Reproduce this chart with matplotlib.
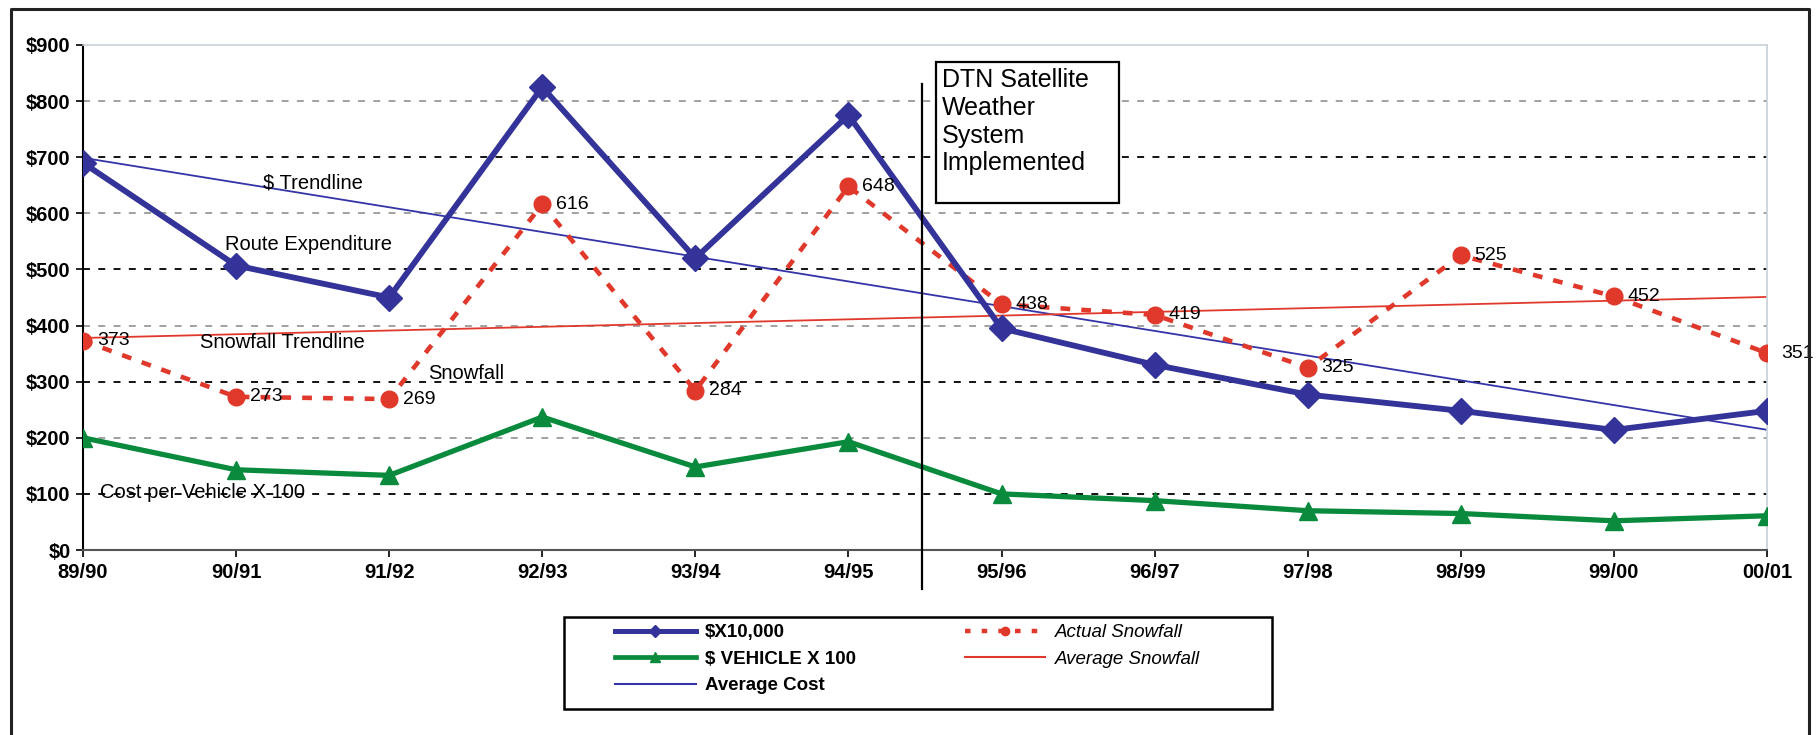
import numpy as np
import matplotlib.pyplot as plt
from matplotlib.lines import Line2D
from matplotlib.patches import Rectangle

plt.rcParams['font.family'] = ['Liberation Sans', 'DejaVu Sans']
plt.rcParams['text.parse_math'] = False
plt.rcParams['lines.scale_dashes'] = False

# data
seasons = ['89/90', '90/91', '91/92', '92/93', '93/94', '94/95',
           '95/96', '96/97', '97/98', '98/99', '99/00', '00/01']
cost_x10000 = [690, 507, 450, 825, 520, 775, 395, 330, 277, 248, 214, 248]
vehicle_x100 = [200, 143, 133, 237, 148, 193, 100, 88, 70, 65, 52, 61]
snowfall = [373, 273, 269, 616, 284, 648, 438, 419, 325, 525, 452, 351]

x = np.arange(len(seasons))
blue = '#333399'
green = '#0a8a3c'
red = '#e0392b'

# linear trendlines of the two series
cost_fit = np.polyval(np.polyfit(x, cost_x10000, 1), x)
snow_fit = np.polyval(np.polyfit(x, snowfall, 1), x)

W, H = 1818, 735
fig = plt.figure(figsize=(W / 100, H / 100), dpi=100)
ax = fig.add_axes([83 / W, 1 - 550 / H, 1684 / W, 505 / H])
ax.set_xlim(0, 11)
ax.set_ylim(0, 900)

# dashed grid, alternating grey / black
for yv in range(100, 900, 100):
    c = 'black' if (yv // 100) % 2 == 1 else '#9a9a9a'
    ax.axhline(yv, color=c, lw=1.3, dashes=(5, 6), zorder=1)

ax.plot(x, cost_fit, color='#3434a8', lw=1.3, zorder=2)
ax.plot(x, snow_fit, color=red, lw=1.3, zorder=2)
ax.plot(x, vehicle_x100, color=green, lw=3.8, marker='^', ms=13, zorder=3)
ax.plot(x, snowfall, color=red, lw=3.3, dashes=(7, 8), marker='o', ms=12, zorder=4)
ax.plot(x, cost_x10000, color=blue, lw=4.2, marker='D', ms=13, zorder=5)

for xi, v in zip(x, snowfall):
    ax.annotate(str(v), (xi, v), xytext=(10, 0), textcoords='offset points',
                va='center', ha='left', fontsize=14, zorder=6,
                annotation_clip=False)

fs = 14.5
ax.text(1.50, 654, '$ Trendline', fontsize=fs, ha='center', va='center')
ax.text(1.47, 544, 'Route Expenditure', fontsize=fs, ha='center', va='center')
ax.text(1.30, 369, 'Snowfall Trendline', fontsize=fs, ha='center', va='center')
ax.text(2.50, 314, 'Snowfall', fontsize=fs, ha='center', va='center')
ax.text(0.78, 103, 'Cost per Vehicle X 100', fontsize=fs, ha='center',
        va='center', zorder=0.5)

# system implemented marker
ax.plot([5.48, 5.48], [-70, 830], color='black', lw=1.6, clip_on=False, zorder=6)

ax.set_xticks(x)
ax.set_xticklabels(seasons, fontsize=14.5, fontweight='bold')
ax.set_yticks(range(0, 901, 100))
ax.set_yticklabels(['$%d' % v for v in range(0, 901, 100)],
                   fontsize=14.5, fontweight='bold')
ax.tick_params(length=5, width=1.2, pad=4)
ax.spines['left'].set_linewidth(1.5)
ax.spines['bottom'].set_color('#555555')
ax.spines['bottom'].set_linewidth(1.5)
for s in ['top', 'right']:
    ax.spines[s].set_color('#c8d0d8')
    ax.spines[s].set_linewidth(1.2)

# text box (white, covers the grid)
fig.patches.append(Rectangle((936 / W, 1 - 203 / H), 183 / W, 141 / H,
                             transform=fig.transFigure, fc='white',
                             ec='black', lw=1.6, zorder=2))
fig.text(942 / W, 1 - 68 / H,
         'DTN Satellite\nWeather\nSystem\nImplemented',
         fontsize=18, ha='left', va='top', linespacing=1.2, zorder=3)

# outer frame
fig.lines.append(Line2D([11 / W, 11 / W, 1809 / W, 1809 / W],
                        [0, 1 - 9 / H, 1 - 9 / H, 0],
                        transform=fig.transFigure, color='#222222', lw=2.2))

# legend: frame drawn separately
fig.patches.append(Rectangle((564 / W, 1 - 709 / H), 708 / W, 92 / H,
                             transform=fig.transFigure, fill=False,
                             ec='black', lw=1.8))
handles = [
    Line2D([], [], color=blue, lw=3.6, marker='D', ms=6),
    Line2D([], [], color=green, lw=3.4, marker='^', ms=7),
    Line2D([], [], color='#3434a8', lw=1.5),
    Line2D([], [], color=red, lw=3.2, dashes=(4, 8), marker='o', ms=6),
    Line2D([], [], color=red, lw=1.5),
]
labels = ['$X10,000', '$ VEHICLE X 100', 'Average Cost',
          'Actual Snowfall', 'Average Snowfall']
leg = fig.legend(handles, labels, ncol=2, loc='upper left',
                 bbox_to_anchor=(615 / W, 1 - 624 / H),
                 prop={'size': 13.5}, handlelength=4.3,
                 borderaxespad=0, frameon=False, borderpad=0,
                 labelspacing=0.5, handletextpad=0.5, columnspacing=5.8)
for i, t in enumerate(leg.get_texts()):
    if i < 3:
        t.set_fontweight('bold')
    else:
        t.set_fontstyle('italic')

fig.savefig('out.png', dpi=100)
